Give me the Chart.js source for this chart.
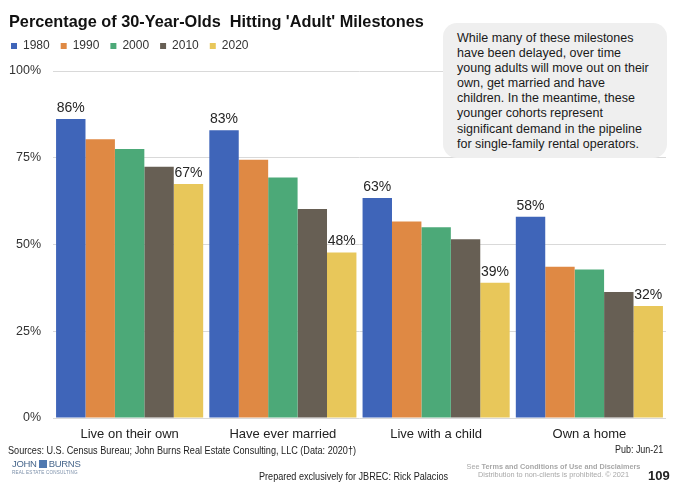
<!DOCTYPE html>
<html>
<head>
<meta charset="utf-8">
<script src="https://cdn.jsdelivr.net/npm/chart.js@4/dist/chart.umd.min.js"></script>
<style>
  html, body { margin: 0; padding: 0; background: #fff; }
  body { width: 680px; height: 486px; position: relative; overflow: hidden; font-family: "Liberation Sans", Arial, sans-serif; color: #1a1a1a; }
  #chart { position: absolute; left: 0; top: 0; }
  .title { position: absolute; left: 9px; top: 12px; font-size: 16.3px; font-weight: bold; white-space: pre; color: #111; }
  .note { position: absolute; left: 443px; top: 23px; width: 210px; height: 127px; padding: 8px 0 0 14px; background: #efefef; border-radius: 14px; font-size: 12.5px; line-height: 15.1px; color: #1a1a1a; }
  .fit { white-space: nowrap; position: absolute; transform-origin: left center; }
  .src { left: 8px; top: 444px; font-size: 11px; color: #222; }
  .pub { left: 615px; top: 443px; font-size: 11px; color: #222; }
  .prep { left: 259px; top: 470px; font-size: 11.5px; color: #222; }
  .terms { position: absolute; left: 465px; top: 463px; font-size: 7.3px; line-height: 8px; color: #a8a8a8; text-align: center; width: 177px; white-space: nowrap; }
  .terms b { font-weight: bold; }
  .page { position: absolute; left: 648px; top: 468px; font-size: 13px; font-weight: bold; color: #222; }
  .logo { position: absolute; left: 12px; top: 458px; color: #48678c; }
  .logo .name { font-size: 9.5px; letter-spacing: -0.3px; white-space: nowrap; }
  .logo .icon { display: inline-block; width: 8px; height: 8px; background: #4f79b0; margin: 0 2px; vertical-align: -1px; }
  .logo .sub { font-size: 4.6px; letter-spacing: 0.2px; color: #7a8ea8; white-space: nowrap; margin-top: 1px; }
</style>
</head>
<body>
<canvas id="chart" width="680" height="486"></canvas>
<div class="title">Percentage of 30-Year-Olds  Hitting 'Adult' Milestones</div>
<div class="note">While many of these milestones<br>have been delayed, over time<br>young adults will move out on their<br>own, get married and have<br>children. In the meantime, these<br>younger cohorts represent<br>significant demand in the pipeline<br>for single-family rental operators.</div>
<div class="fit src" data-w="348">Sources: U.S. Census Bureau; John Burns Real Estate Consulting, LLC (Data: 2020†)</div>
<div class="fit pub" data-w="48">Pub: Jun-21</div>
<div class="fit prep" data-w="189">Prepared exclusively for JBREC: Rick Palacios</div>
<div class="terms">See <b>Terms and Conditions of Use and Disclaimers</b><br>Distribution to non-clients is prohibited. © 2021</div>
<div class="page">109</div>
<div class="logo"><div class="name">JOHN<span class="icon"></span>BURNS</div><div class="sub">REAL ESTATE CONSULTING</div></div>

<script>
// categorias e séries
const categories = ['Live on their own', 'Have ever married', 'Live with a child', 'Own a home'];
const years = ['1980', '1990', '2000', '2010', '2020'];
const v1980 = [86.2, 82.9, 63.4, 58.0];
const v1990 = [80.3, 74.4, 56.6, 43.6];
const v2000 = [77.5, 69.3, 55.0, 42.8];
const v2010 = [72.4, 60.2, 51.5, 36.3];
const v2020 = [67.4, 47.7, 39.0, 32.3];
const yTicks = [0, 25, 50, 75, 100];

const colors = ['#3f65b9', '#df8944', '#4ca978', '#675f54', '#e8c75a'];
const series = [v1980, v1990, v2000, v2010, v2020];
const labelled = [0, 4]; // só 1980 e 2020 têm rótulo

// rodapé em fonte estreita: comprime o texto até a largura do original
document.querySelectorAll('.fit').forEach(el => {
    el.style.transform = 'scaleX(' + (el.dataset.w / el.offsetWidth) + ')';
});

// espaço extra abaixo da legenda
const legendGap = {
    id: 'legendGap',
    beforeInit(chart) {
        const fit = chart.legend.fit;
        chart.legend.fit = function () {
            fit.call(this);
            this.height += 9;
        };
    }
};

// rótulos de valor acima das barras
const valueLabels = {
    id: 'valueLabels',
    afterDatasetsDraw(chart) {
        const ctx = chart.ctx;
        ctx.save();
        ctx.font = '14px "Liberation Sans", Arial, sans-serif';
        ctx.fillStyle = '#262626';
        ctx.textAlign = 'center';
        ctx.textBaseline = 'bottom';
        labelled.forEach(i => {
            const meta = chart.getDatasetMeta(i);
            meta.data.forEach((bar, j) => {
                ctx.fillText(Math.round(series[i][j]) + '%', bar.x, bar.y - 4);
            });
        });
        ctx.restore();
    }
};

new Chart(document.getElementById('chart'), {
    type: 'bar',
    data: {
        labels: categories,
        datasets: years.map((y, i) => ({
            label: y,
            data: series[i],
            backgroundColor: colors[i],
            borderWidth: 0,
            barPercentage: 1,
            categoryPercentage: 0.96
        }))
    },
    options: {
        responsive: false,
        animation: false,
        layout: { padding: { top: 29, left: 0, right: 14, bottom: 38 } },
        plugins: {
            tooltip: { enabled: false },
            legend: {
                position: 'top',
                align: 'start',
                labels: {
                    boxWidth: 6,
                    boxHeight: 6,
                    padding: 11,
                    color: '#333',
                    font: { family: '"Liberation Sans", Arial, sans-serif', size: 12 }
                }
            }
        },
        scales: {
            x: {
                grid: { display: false },
                border: { display: false },
                ticks: {
                    color: '#222',
                    padding: 1,
                    font: { family: '"Liberation Sans", Arial, sans-serif', size: 13 }
                },
                afterFit(s) { s.height = 30; }
            },
            y: {
                min: 0,
                max: 100,
                afterBuildTicks(s) { s.ticks = yTicks.map(v => ({ value: v })); },
                grid: { color: '#d9d9d9', drawTicks: false },
                border: { display: false },
                ticks: {
                    color: '#333',
                    padding: 12,
                    font: { family: '"Liberation Sans", Arial, sans-serif', size: 12.5 },
                    callback: v => v + '%'
                },
                afterFit(s) { s.width = 53; }
            }
        }
    },
    plugins: [legendGap, valueLabels]
});
</script>
</body>
</html>
